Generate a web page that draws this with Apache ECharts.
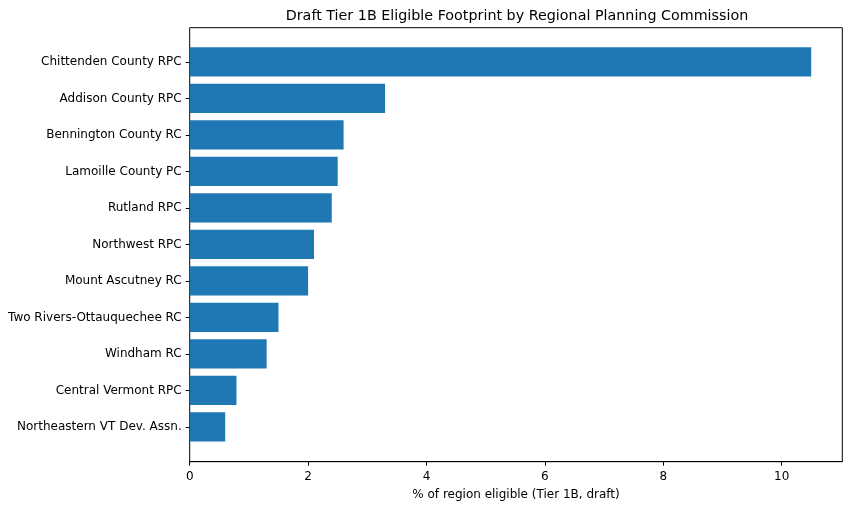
<!DOCTYPE html>
<html lang="en">
<head>
    <meta charset="UTF-8">
    <title>Tier 1B Footprint</title>
    <style>
    html, body { margin: 0; padding: 0; background: #fff; }
    #chart { width: 850px; height: 507px; }
    </style>
</head>
<body>
    <div id="chart"></div>
    <script src="https://cdn.jsdelivr.net/npm/echarts@6/dist/echarts.min.js"></script>
    <script>
    // data
    var regions = [
        'Chittenden County RPC',
        'Addison County RPC',
        'Bennington County RC',
        'Lamoille County PC',
        'Rutland RPC',
        'Northwest RPC',
        'Mount Ascutney RC',
        'Two Rivers-Ottauquechee RC',
        'Windham RC',
        'Central Vermont RPC',
        'Northeastern VT Dev. Assn.'
    ];
    var eligiblePct = [10.5, 3.3, 2.6, 2.5, 2.4, 2.1, 2.0, 1.5, 1.3, 0.79, 0.6];
    var xTicks = [0, 2, 4, 6, 8, 10];

    var font = 'DejaVu Sans';
    var xMax = 11.025;

    // plot frame (matplotlib axes box)
    var frame = { left: 189.7, right: 7.7, top: 27.7, bottom: 45.3 };
    // bars band area, matches matplotlib margins around the bars
    var band = 36.5;
    var barTop = 61.9 - band / 2;

    var myChart = echarts.init(document.getElementById('chart'));
    myChart.setOption({
        animation: false,
        title: {
            text: 'Draft Tier 1B Eligible Footprint by Regional Planning Commission',
            left: 512,
            textAlign: 'center',
            top: 4,
            textStyle: { fontFamily: font, fontSize: 14.3, fontWeight: 'normal', color: '#000' }
        },
        grid: [
            {
                left: frame.left, right: frame.right, top: frame.top, bottom: frame.bottom,
                show: true, borderColor: '#000', borderWidth: 1, backgroundColor: 'transparent'
            },
            {
                left: frame.left, right: frame.right, top: barTop, height: band * regions.length
            }
        ],
        xAxis: [
            {
                gridIndex: 0, type: 'value', min: 0, max: xMax, interval: 2,
                name: '% of region eligible (Tier 1B, draft)',
                nameLocation: 'middle', nameGap: 27,
                nameTextStyle: { fontFamily: font, fontSize: 12, color: '#000' },
                axisLine: { show: true, lineStyle: { color: '#000', width: 1 } },
                axisTick: { show: true, length: 4, lineStyle: { color: '#000' } },
                axisLabel: {
                    fontFamily: font, fontSize: 12, color: '#000', margin: 9,
                    showMaxLabel: false,
                    formatter: function (v) { return xTicks.indexOf(v) >= 0 ? String(v) : ''; }
                },
                splitLine: { show: false }
            },
            {
                gridIndex: 1, type: 'value', min: 0, max: xMax, show: false
            }
        ],
        yAxis: [
            { gridIndex: 0, type: 'value', show: false },
            {
                gridIndex: 1, type: 'category', inverse: true, data: regions,
                axisLine: { show: false },
                axisTick: { show: true, alignWithLabel: true, length: 4, lineStyle: { color: '#000' } },
                axisLabel: { fontFamily: font, fontSize: 12, color: '#000', margin: 8 }
            }
        ],
        series: [
            {
                type: 'bar', xAxisIndex: 1, yAxisIndex: 1,
                data: eligiblePct,
                barWidth: band * 0.8,
                itemStyle: { color: '#1f77b4' }
            }
        ]
    });
    </script>
</body>
</html>
